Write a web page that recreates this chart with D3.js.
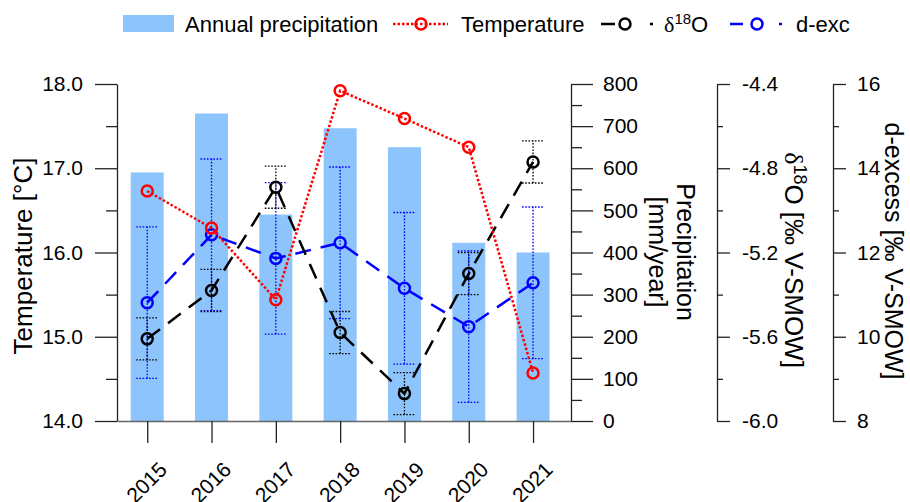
<!DOCTYPE html>
<html>
<head>
<meta charset="utf-8">
<script src="https://cdn.jsdelivr.net/npm/d3@7"></script>
<style>
  body { margin: 0; background: #fff; }
  svg { display: block; font-family: "Liberation Sans", Arial, sans-serif; }
</style>
</head>
<body>
<svg id="chart" width="910" height="502"></svg>
<script>
// Yearly station record
const years = [2015, 2016, 2017, 2018, 2019, 2020, 2021];
const precipitation = [590, 730, 490, 695, 650, 423, 400];          // mm/year
const temperature = [16.73, 16.29, 15.44, 17.92, 17.59, 17.25, 14.57]; // °C
const d18O = [-5.61, -5.38, -4.89, -5.58, -5.87, -5.30, -4.77];       // ‰ V-SMOW
const d18OErr = [0.1, 0.1, 0.1, 0.1, 0.1, 0.1, 0.1];
const dExcess = [10.81, 12.42, 11.86, 12.23, 11.15, 10.24, 11.28];    // ‰ V-SMOW
const dExcessErr = [1.8, 1.8, 1.8, 1.8, 1.8, 1.8, 1.8];

const tempTicks = [14, 15, 16, 17, 18];
const precTicks = [0, 100, 200, 300, 400, 500, 600, 700, 800];
const d18OTicks = [-6.0, -5.6, -5.2, -4.8, -4.4];
const dexTicks = [8, 10, 12, 14, 16];

const svg = d3.select("#chart");

const plotTop = 84, plotBottom = 421;
const x = d3.scaleLinear().domain([2014.53, 2021.59]).range([117, 571]);
const yT = d3.scaleLinear().domain([14, 18]).range([plotBottom, plotTop]);
const yP = d3.scaleLinear().domain([0, 800]).range([plotBottom, plotTop]);
const yO = d3.scaleLinear().domain([-6.0, -4.4]).range([plotBottom, plotTop]);
const yD = d3.scaleLinear().domain([8, 16]).range([plotBottom, plotTop]);

const barW = 33;
const axisColor = "#222";
const tickFs = 21;

// Bars: annual precipitation
svg.append("g").selectAll("rect").data(years).join("rect")
  .attr("x", (d) => x(d) - barW / 2)
  .attr("width", barW)
  .attr("y", (d, i) => yP(precipitation[i]))
  .attr("height", (d, i) => yP(0) - yP(precipitation[i]))
  .attr("fill", "#8dc4fb");

// Error bars (dotted whiskers with dotted caps)
function errorBars(vals, errs, scale, color) {
  const g = svg.append("g").attr("stroke", color).attr("stroke-width", 1.3)
    .attr("stroke-dasharray", "1.6,1.6").attr("fill", "none");
  years.forEach((yr, i) => {
    const cx = x(yr), lo = scale(vals[i] - errs[i]), hi = scale(vals[i] + errs[i]);
    g.append("line").attr("x1", cx).attr("x2", cx).attr("y1", lo).attr("y2", hi);
    g.append("line").attr("x1", cx - 11).attr("x2", cx + 11).attr("y1", lo).attr("y2", lo);
    g.append("line").attr("x1", cx - 11).attr("x2", cx + 11).attr("y1", hi).attr("y2", hi);
  });
}
errorBars(d18O, d18OErr, yO, "#000");
errorBars(dExcess, dExcessErr, yD, "#0000ff");

// Series lines with open circle markers
function series(vals, scale, color, dash) {
  const line = d3.line().x((d, i) => x(years[i])).y((d) => scale(d));
  svg.append("path").datum(vals).attr("d", line)
    .attr("fill", "none").attr("stroke", color).attr("stroke-width", 2.5)
    .attr("stroke-dasharray", dash);
  svg.append("g").selectAll("circle").data(vals).join("circle")
    .attr("cx", (d, i) => x(years[i])).attr("cy", (d) => scale(d)).attr("r", 5.5)
    .attr("fill", "none").attr("stroke", color).attr("stroke-width", 2.5);
}
series(dExcess, yD, "#0000ff", "16,10");
series(d18O, yO, "#000", "16,10");
series(temperature, yT, "#ff0000", "2.5,2");

// Axes helper: minor + major ticks
function styleAxis(g, fs) {
  g.selectAll("path.domain").attr("stroke", axisColor).attr("stroke-width", 1.3);
  g.selectAll(".tick line").attr("stroke", axisColor).attr("stroke-width", 1.3);
  g.selectAll(".tick text").attr("fill", "#000").style("font-size", fs + "px")
    .style("font-family", '"Liberation Sans", Arial, sans-serif');
}
function yAxis(axisFn, scale, posX, major, minor, bigLen, smallLen, pad, fmt) {
  const gMin = svg.append("g").attr("transform", `translate(${posX},0)`)
    .call(axisFn(scale).tickValues(minor).tickSize(smallLen).tickSizeOuter(0).tickFormat(""));
  gMin.select("path.domain").remove();
  styleAxis(gMin, tickFs);
  const gMaj = svg.append("g").attr("transform", `translate(${posX},0)`)
    .call(axisFn(scale).tickValues(major).tickSize(bigLen).tickSizeOuter(0).tickPadding(pad).tickFormat(fmt));
  styleAxis(gMaj, tickFs);
  return gMaj;
}
yAxis(d3.axisLeft, yT, 117, tempTicks, [14.5, 15.5, 16.5, 17.5], 22, 11, 12, (d) => d.toFixed(1));
yAxis(d3.axisRight, yP, 571, precTicks, [50, 150, 250, 350, 450, 550, 650, 750], 22, 11, 10, (d) => String(d));
yAxis(d3.axisRight, yO, 717, d18OTicks, [-5.8, -5.4, -5.0, -4.6], 13, 6, 12, (d) => d.toFixed(1));
yAxis(d3.axisRight, yD, 833, dexTicks, [9, 11, 13, 15], 13, 6, 11, (d) => String(d));

// Bottom axis with slanted year labels
const gx = svg.append("g").attr("transform", `translate(0,${plotBottom})`)
  .call(d3.axisBottom(x).tickValues(years).tickSize(22).tickSizeOuter(0).tickFormat(d3.format("d")));
styleAxis(gx, tickFs);
gx.select("path.domain").attr("stroke", "#666");
gx.selectAll(".tick text")
  .attr("x", 0).attr("y", 0).attr("dy", 0)
  .attr("text-anchor", "end")
  .attr("transform", "translate(20.5,50) rotate(-45)");

// Axis titles
svg.append("text").attr("transform", "translate(32,256) rotate(-90)")
  .attr("text-anchor", "middle").style("font-size", "26px").text("Temperature [°C]");

const pt = svg.append("text").attr("transform", "translate(677,252) rotate(90)")
  .attr("text-anchor", "middle").style("font-size", "25px");
pt.append("tspan").attr("x", 0).attr("y", 0).text("Precipitation");
pt.append("tspan").attr("x", 0).attr("y", 28).text("[mm/year]");

const ot = svg.append("text").attr("transform", "translate(785,260) rotate(90)")
  .attr("text-anchor", "middle").style("font-size", "26px");
ot.append("tspan").style("font-family", '"Liberation Serif", serif').text("δ");
ot.append("tspan").attr("dy", -9).style("font-size", "18px").text("18");
ot.append("tspan").attr("dy", 9).text("O [‰ V-SMOW]");

svg.append("text").attr("transform", "translate(885,251) rotate(90)")
  .attr("text-anchor", "middle").style("font-size", "25px").text("d-excess [‰ V-SMOW]");

// Legend
const legFs = 22, legY = 24, legBase = 32;
const leg = svg.append("g");
leg.append("rect").attr("x", 123).attr("y", 15).attr("width", 51).attr("height", 17).attr("fill", "#8dc4fb");
leg.append("text").attr("x", 185).attr("y", legBase).style("font-size", legFs + "px").text("Annual precipitation");

function legendLine(x1, x2, cx, color, dash) {
  leg.append("line").attr("x1", x1).attr("x2", x2).attr("y1", legY).attr("y2", legY)
    .attr("stroke", color).attr("stroke-width", 2.5).attr("stroke-dasharray", dash);
  leg.append("circle").attr("cx", cx).attr("cy", legY).attr("r", 5.5)
    .attr("fill", "none").attr("stroke", color).attr("stroke-width", 2.5);
}
legendLine(393, 448, 421, "#ff0000", "2.5,2");
leg.append("text").attr("x", 461).attr("y", legBase).style("font-size", legFs + "px").text("Temperature");

legendLine(601, 653, 625, "#000", "14,35,3,100");
const lo = leg.append("text").attr("x", 664).attr("y", legBase).style("font-size", legFs + "px");
lo.append("tspan").style("font-family", '"Liberation Serif", serif').text("δ");
lo.append("tspan").attr("dy", -8).style("font-size", "15px").text("18");
lo.append("tspan").attr("dy", 8).text("O");

legendLine(730, 784, 757, "#0000ff", "13,36,3,100");
leg.append("text").attr("x", 796).attr("y", legBase).style("font-size", legFs + "px").text("d-exc");
</script>
</body>
</html>
